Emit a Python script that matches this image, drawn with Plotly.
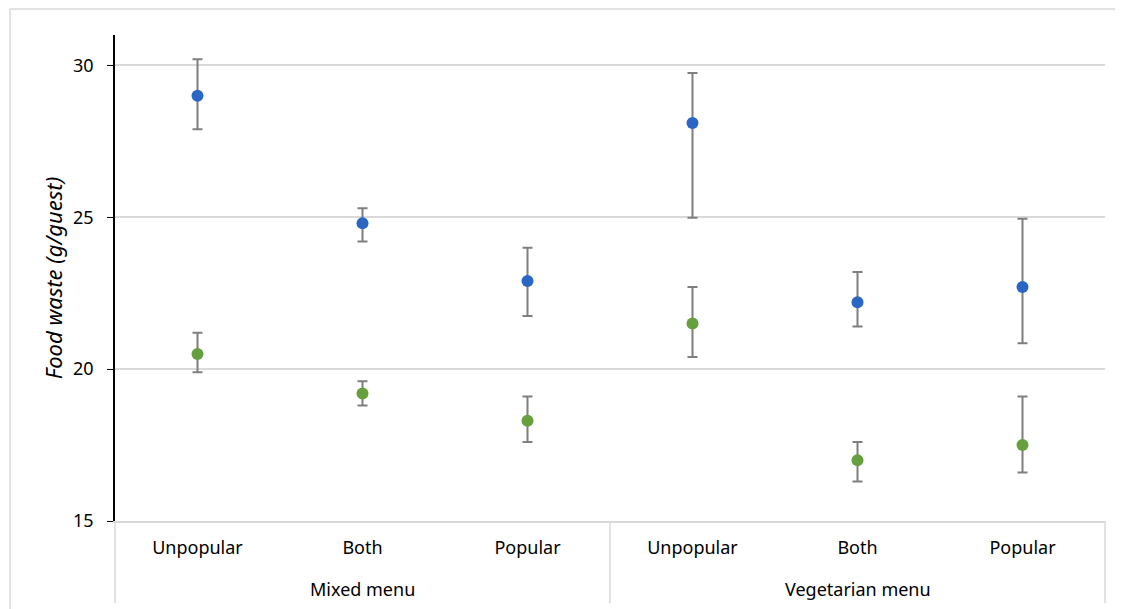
import plotly.graph_objects as go

menus = ["Mixed menu"] * 3 + ["Vegetarian menu"] * 3
popularity = ["Unpopular", "Both", "Popular"] * 2
groups = ["Mixed menu", "Vegetarian menu"]

blue_mean = [29.0, 24.8, 22.9, 28.1, 22.2, 22.7]
blue_upper = [30.2, 25.3, 24.0, 29.75, 23.2, 24.95]
blue_lower = [27.9, 24.2, 21.75, 24.98, 21.4, 20.85]

green_mean = [20.5, 19.2, 18.3, 21.5, 17.0, 17.5]
green_upper = [21.2, 19.6, 19.1, 22.7, 17.6, 19.1]
green_lower = [19.9, 18.8, 17.6, 20.4, 16.3, 16.6]

y_ticks = [15, 20, 25, 30]

FONT = "Noto Sans"
GRID = "#d9d9d9"

# one category key per (menu, popularity) pair
keys = [f"{m} | {p}" for m, p in zip(menus, popularity)]


def trace(mean, upper, lower, color):
    return go.Scatter(
        x=keys,
        y=mean,
        mode="markers",
        marker=dict(color=color, size=12),
        error_y=dict(
            type="data",
            symmetric=False,
            array=[u - m for u, m in zip(upper, mean)],
            arrayminus=[m - l for m, l in zip(mean, lower)],
            color="#7f7f7f",
            thickness=2,
            width=5,
        ),
        showlegend=False,
        cliponaxis=False,
    )


fig = go.Figure()
fig.add_trace(trace(blue_mean, blue_upper, blue_lower, "#2a67c4"))
fig.add_trace(trace(green_mean, green_upper, green_lower, "#66a03e"))

# frame (top and left edges) and group separators (paper coordinates)
shapes = [
    dict(type="line", xref="paper", yref="paper",
         x0=-0.106, x1=1.1, y0=1.0535, y1=1.0535,
         line=dict(color=GRID, width=1.5), layer="below"),
    dict(type="line", xref="paper", yref="paper",
         x0=-0.106, x1=-0.106, y0=-0.3, y1=1.0535,
         line=dict(color=GRID, width=1.5), layer="below"),
]
for xp in (0, 0.5, 1):
    shapes.append(dict(type="line", xref="paper", yref="paper",
                       x0=xp, x1=xp, y0=0, y1=-0.169,
                       line=dict(color=GRID, width=1.5), layer="below"))

# group (second-level) labels, centred under the middle category of each group
annotations = []
for g in groups:
    members = [k for k, m in zip(keys, menus) if m == g]
    annotations.append(dict(
        x=members[len(members) // 2], xref="x",
        y=-0.14, yref="paper", yanchor="middle",
        text=g, showarrow=False,
        font=dict(family=FONT, size=18, color="#000000"),
    ))

fig.update_layout(
    width=1123,
    height=609,
    margin=dict(l=107, r=26, t=27, b=96),
    paper_bgcolor="white",
    plot_bgcolor="white",
    font=dict(family=FONT, size=18, color="#000000"),
    xaxis=dict(
        type="category",
        range=[-0.5, len(keys) - 0.5],
        tickvals=keys,
        ticktext=popularity,
        showline=True,
        linecolor=GRID,
        linewidth=1.5,
        showgrid=False,
        ticks="",
        ticklabelstandoff=10,
        tickfont=dict(family=FONT, size=18, color="#000000"),
    ),
    yaxis=dict(
        range=[15, 31],
        tickvals=y_ticks,
        showline=True,
        linecolor="#000000",
        linewidth=1.5,
        ticks="outside",
        ticklen=6,
        tickcolor="#000000",
        ticklabelstandoff=10,
        showgrid=True,
        gridcolor=GRID,
        gridwidth=1.5,
        zeroline=False,
        tickfont=dict(family=FONT, size=18, color="#000000"),
        title=dict(
            text="<i>Food waste (g/guest)</i>",
            font=dict(family=FONT, size=22, color="#000000"),
            standoff=4,
        ),
    ),
    shapes=shapes,
    annotations=annotations,
)

fig.write_html("out.html")
